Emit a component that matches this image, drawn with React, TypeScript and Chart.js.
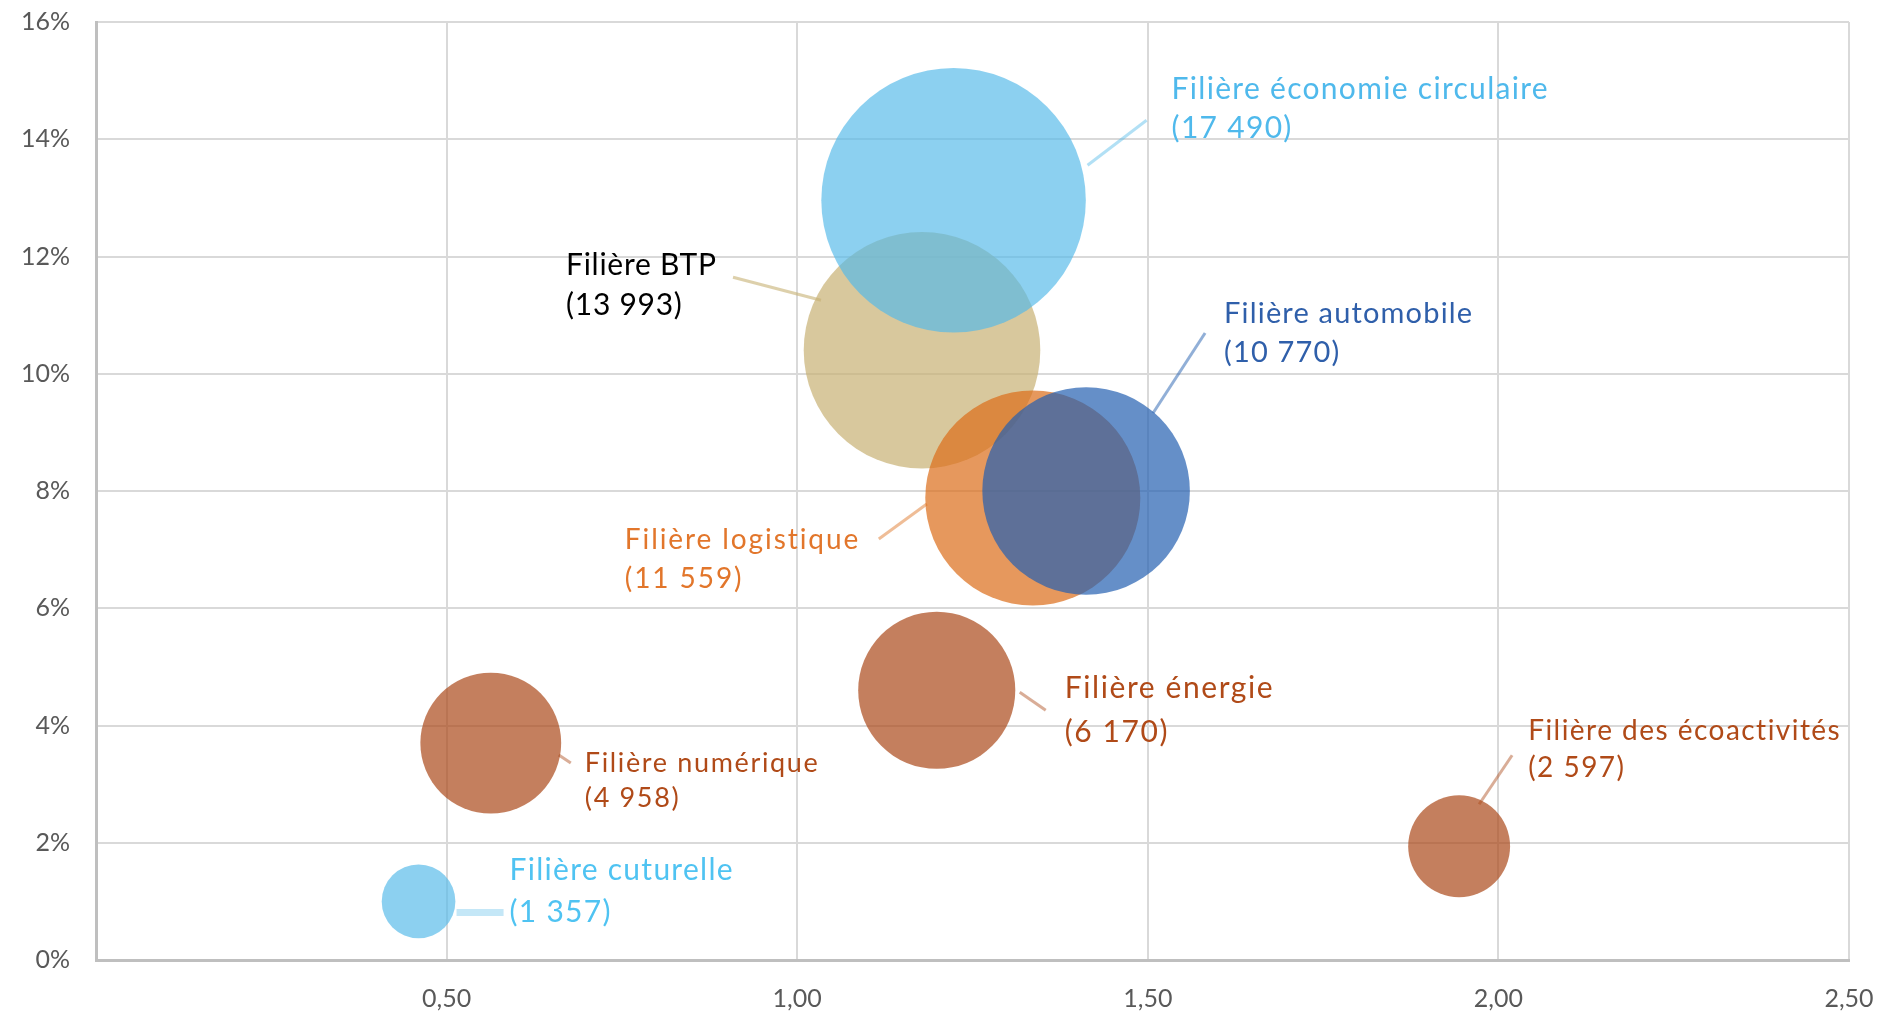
import { useEffect, useRef } from 'react';
import { Chart, registerables } from 'chart.js';

Chart.register(...registerables);

// Draw order (later = on top)
const categories = [
  'Filière cuturelle',
  'Filière numérique',
  'Filière énergie',
  'Filière des écoactivités',
  'Filière BTP',
  'Filière économie circulaire',
  'Filière logistique',
  'Filière automobile',
];
const xValues = [0.46, 0.563, 1.199, 1.944, 1.178, 1.223, 1.336, 1.412];
const yValues = [1.0, 3.7, 4.6, 1.94, 10.4, 12.96, 7.88, 8.0];
const sizes = [1357, 4958, 6170, 2597, 13993, 17490, 11559, 10770];
const sizeLabels = ['(1 357)', '(4 958)', '(6 170)', '(2 597)', '(13 993)', '(17 490)', '(11 559)', '(10 770)'];
const xTickValues = [0.5, 1.0, 1.5, 2.0, 2.5];
const yTickValues = [0, 2, 4, 6, 8, 10, 12, 14, 16];

// Styles
const fills = [
  'rgba(85,186,233,0.68)',
  'rgba(171,73,25,0.7)',
  'rgba(171,73,25,0.7)',
  'rgba(171,73,25,0.7)',
  'rgba(199,176,115,0.7)',
  'rgba(85,186,233,0.68)',
  'rgba(220,108,24,0.7)',
  'rgba(36,96,176,0.7)',
];
const labelColors = ['#4FC3F2', '#B04A18', '#B04A18', '#B04A18', '#000000', '#4FB9EC', '#E2762B', '#2F5FAA'];
const leaderColors = [
  'rgba(85,186,233,0.35)',
  'rgba(171,73,25,0.45)',
  'rgba(171,73,25,0.45)',
  'rgba(171,73,25,0.45)',
  'rgba(199,176,115,0.6)',
  'rgba(85,186,233,0.45)',
  'rgba(220,108,24,0.45)',
  'rgba(36,96,176,0.5)',
];
// label layout relative to bubble centre (px): dx, dy = baseline of line 1, line gap, font size, target width of line 1, leader segment, leader width
const labelLayout = [
  { dx: 91, dy: -21, gap: 42, size: 30, w: 223, lead: [38, 11, 85, 11], lw: 7 },
  { dx: 94, dy: 29, gap: 35, size: 27, w: 233, lead: [68, 12, 80, 20], lw: 3 },
  { dx: 128, dy: 8, gap: 44, size: 30, w: 208, lead: [83, 2, 109, 20], lw: 3 },
  { dx: 69, dy: -106, gap: 37, size: 28, w: 312, lead: [20, -42, 53, -91], lw: 3 },
  { dx: -356, dy: -75, gap: 40, size: 30, w: 150, lead: [-101, -50, -189, -73], lw: 3 },
  { dx: 218, dy: -101, gap: 39, size: 30, w: 376, lead: [134, -35, 193, -80], lw: 3 },
  { dx: -408, dy: 51, gap: 39, size: 28, w: 234, lead: [-106, 6, -154, 41], lw: 3 },
  { dx: 138, dy: -168, gap: 39, size: 29, w: 248, lead: [67, -78, 119, -158], lw: 3 },
];

const FONT = 'Lato, "Open Sans", sans-serif';
const W = 1888;
const H = 1012;

const labelPlugin = {
  id: 'bubbleLabels',
  afterDatasetsDraw(chart: any) {
    const { ctx, scales } = chart;
    ctx.save();
    categories.forEach((name, i) => {
      const cx = scales.x.getPixelForValue(xValues[i]);
      const cy = scales.y.getPixelForValue(yValues[i]);
      const L = labelLayout[i];
      ctx.strokeStyle = leaderColors[i];
      ctx.lineWidth = L.lw;
      ctx.beginPath();
      ctx.moveTo(cx + L.lead[0], cy + L.lead[1]);
      ctx.lineTo(cx + L.lead[2], cy + L.lead[3]);
      ctx.stroke();
      ctx.font = `${L.size}px ${FONT}`;
      ctx.fillStyle = labelColors[i];
      ctx.textBaseline = 'alphabetic';
      ctx.textAlign = 'left';
      (ctx as any).letterSpacing = '0px';
      const w0 = ctx.measureText(name).width;
      let sx = 1;
      if (L.w > w0) {
        const sp = (L.w - w0) / Math.max(1, name.length - 1);
        (ctx as any).letterSpacing = `${sp.toFixed(2)}px`;
      } else {
        sx = L.w / w0;
      }
      const x = cx + L.dx;
      const y1 = cy + L.dy;
      [name, sizeLabels[i]].forEach((line, k) => {
        ctx.save();
        ctx.translate(x, y1 + k * L.gap);
        ctx.scale(sx, 1);
        ctx.fillText(line, 0, 0);
        ctx.restore();
      });
    });
    (ctx as any).letterSpacing = '0px';
    ctx.restore();
  },
};

const noScalePadding = (s: any) => {
  s.paddingTop = 0;
  s.paddingBottom = 0;
  s.paddingLeft = 0;
  s.paddingRight = 0;
};

export default function App() {
  const ref = useRef<HTMLCanvasElement | null>(null);
  useEffect(() => {
    if (!ref.current) return;
    const tickFont = { family: FONT, size: 25 };
    const chart = new Chart(ref.current, {
      type: 'bubble',
      data: {
        datasets: [
          {
            label: 'Filières',
            data: categories.map((_, i) => ({ x: xValues[i], y: yValues[i], r: Math.sqrt(sizes[i]) })),
            backgroundColor: fills,
            borderWidth: 0,
            hoverBorderWidth: 0,
            hoverRadius: 0,
            clip: false,
          },
        ],
      },
      options: {
        animation: false,
        responsive: false,
        devicePixelRatio: 1,
        events: [],
        layout: { autoPadding: false, padding: { top: 22, right: 39, left: 0, bottom: 0 } },
        plugins: { legend: { display: false }, tooltip: { enabled: false } },
        scales: {
          x: {
            type: 'linear',
            min: 0,
            max: 2.5,
            afterBuildTicks: (s: any) => {
              s.ticks = [0, ...xTickValues].map((v) => ({ value: v }));
            },
            ticks: {
              font: tickFont,
              color: '#595959',
              padding: 24,
              maxRotation: 0,
              callback: (v: any) => (Number(v) === 0 ? '' : Number(v).toFixed(2).replace('.', ',')),
            },
            grid: { color: '#D9D9D9', lineWidth: 2, drawTicks: false },
            border: { color: '#BFBFBF', width: 3 },
            afterFit: (s: any) => {
              s.height = 52;
              noScalePadding(s);
            },
          },
          y: {
            type: 'linear',
            min: 0,
            max: 16,
            afterBuildTicks: (s: any) => {
              s.ticks = yTickValues.map((v) => ({ value: v }));
            },
            ticks: {
              font: tickFont,
              color: '#595959',
              padding: 26,
              callback: (v: any) => `${v}%`,
            },
            grid: { color: '#D9D9D9', lineWidth: 2, drawTicks: false },
            border: { color: '#BFBFBF', width: 3 },
            afterFit: (s: any) => {
              s.width = 96;
              noScalePadding(s);
            },
          },
        },
      },
      plugins: [labelPlugin],
    } as any);
    return () => chart.destroy();
  }, []);
  return (
    <div style={{ position: 'fixed', left: 0, top: 0, width: W, height: H, background: '#fff' }}>
      <canvas ref={ref} width={W} height={H} style={{ display: 'block', width: W, height: H }} />
    </div>
  );
}
